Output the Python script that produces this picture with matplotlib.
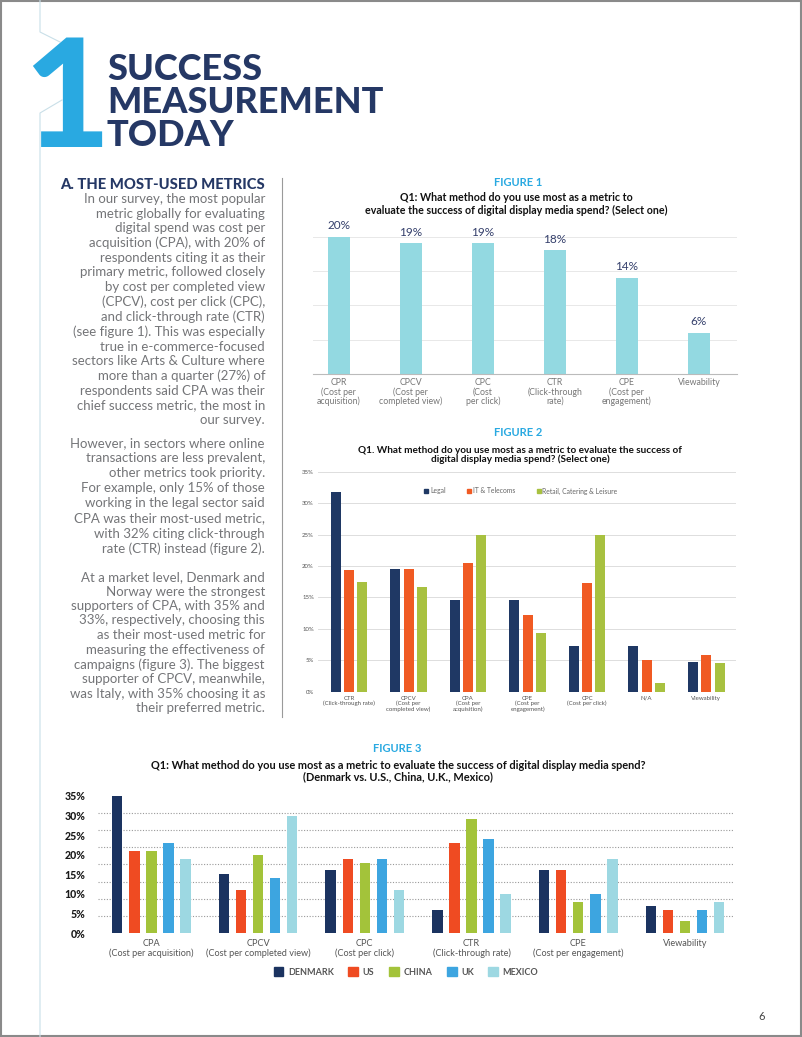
import numpy as np
import matplotlib.pyplot as plt
from matplotlib.patches import Patch, Rectangle
from matplotlib.lines import Line2D

plt.rcParams['font.family'] = ['Lato', 'DejaVu Sans']

# ---- data ----
fig1_cats = ["CPR\n(Cost per\nacquisition)", "CPCV\n(Cost per\ncompleted view)",
             "CPC\n(Cost\nper click)", "CTR\n(Click-through\nrate)",
             "CPE\n(Cost per\nengagement)", "Viewability"]
fig1_vals = [20, 19, 19, 18, 14, 6]

fig2_cats = ["CTR\n(Click-through rate)", "CPCV\n(Cost per\ncompleted view)",
             "CPA\n(Cost per\nacquisition)", "CPE\n(Cost per\nengagement)",
             "CPC\n(Cost per click)", "N/A", "Viewability"]
fig2_series = ["Legal", "IT & Telecoms", "Retail, Catering & Leisure"]
legal = [31.7, 19.5, 14.6, 14.6, 7.2, 7.2, 4.8]
it_telecoms = [19.3, 19.5, 20.5, 12.2, 17.3, 5.1, 5.9]
retail = [17.4, 16.7, 24.9, 9.4, 25.0, 1.4, 4.5]

fig3_cats = ["CPA\n(Cost per acquisition)", "CPCV\n(Cost per completed view)",
             "CPC\n(Cost per click)", "CTR\n(Click-through rate)",
             "CPE\n(Cost per engagement)", "Viewability"]
fig3_series = ["DENMARK", "US", "CHINA", "UK", "MEXICO"]
denmark = [35, 15, 16, 6, 16, 7]
us = [21, 11, 19, 23, 16, 6]
china = [21, 20, 18, 29, 8, 3]
uk = [23, 14, 19, 24, 10, 6]
mexico = [19, 30, 11, 10, 19, 8]

paragraphs = [
    "In our survey, the most popular\nmetric globally for evaluating\ndigital spend was cost per\n"
    "acquisition (CPA), with 20% of\nrespondents citing it as their\nprimary metric, followed closely\n"
    "by cost per completed view\n(CPCV), cost per click (CPC),\nand click-through rate (CTR)\n"
    "(see figure 1). This was especially\ntrue in e-commerce-focused\nsectors like Arts & Culture where\n"
    "more than a quarter (27%) of\nrespondents said CPA was their\nchief success metric, the most in\nour survey.",
    "However, in sectors where online\ntransactions are less prevalent,\nother metrics took priority.\n"
    "For example, only 15% of those\nworking in the legal sector said\nCPA was their most-used metric,\n"
    "with 32% citing click-through\nrate (CTR) instead (figure 2).",
    "At a market level, Denmark and\nNorway were the strongest\nsupporters of CPA, with 35% and\n"
    "33%, respectively, choosing this\nas their most-used metric for\nmeasuring the effectiveness of\n"
    "campaigns (figure 3). The biggest\nsupporter of CPCV, meanwhile,\nwas Italy, with 35% choosing it as\n"
    "their preferred metric.",
]

# ---- page ----
W, H = 802, 1037
fig = plt.figure(figsize=(W / 100, H / 100), dpi=100)

def rect(l, t, r, b):
    return [l / W, 1 - b / H, (r - l) / W, (b - t) / H]

def ftext(x, y, s, **kw):
    return fig.text(x / W, 1 - y / H, s, **kw)

navy = "#253865"
blue = "#29a9e1"
body = "#747578"

# frame and decorative lines
fig.add_artist(Rectangle((0.001, 0.001), 0.998, 0.998, transform=fig.transFigure,
                         fill=False, ec="#8a8a8a", lw=1.5))
fig.add_artist(Line2D(np.array([40, 40, 60]) / W, 1 - np.array([0, 32, 42]) / H,
                      color="#c9dfe8", lw=0.8))
fig.add_artist(Line2D(np.array([62, 40, 40]) / W, 1 - np.array([100, 113, 1037]) / H,
                      color="#c9dfe8", lw=0.8))
fig.add_artist(Line2D([282 / W, 282 / W], [1 - 178 / H, 1 - 717 / H], color="#9a9a9a", lw=0.8))

# headline
ftext(67, 147, "1", fontsize=108, fontweight="black", color=blue, ha="center", va="baseline")
for y, s in zip([80, 113, 146], ["SUCCESS", "MEASUREMENT", "TODAY"]):
    ftext(107, y, s, fontsize=26, fontweight="black", color=navy, ha="left", va="baseline")

ftext(265, 189, "A. THE MOST-USED METRICS", fontsize=10.6, fontweight="black", color=navy,
      ha="right", va="baseline")
for y, p, ls in zip([193, 437, 571], paragraphs, [1.25, 1.31, 1.25]):
    ftext(265, y, p, fontsize=9.5, color=body, ha="right", va="top",
          multialignment="right", linespacing=ls)

ftext(762, 1017, "6", fontsize=8, color="#444444", ha="center", va="center")

# ---- figure 1 ----
ftext(518, 183, "FIGURE 1", fontsize=8, fontweight="bold", color=blue, ha="center", va="center")
ftext(516, 204, "Q1: What method do you use most as a metric to\n"
      "evaluate the success of digital display media spend? (Select one)",
      fontsize=7.7, fontweight="bold", color="#111111", ha="center", va="center", linespacing=1.15)

ax1 = fig.add_axes(rect(313, 220, 737, 374))
x1 = np.arange(len(fig1_vals))
bars = ax1.bar(x1, fig1_vals, width=0.31, color="#93d9e1", zorder=2)
ax1.bar_label(bars, labels=[f"{v}%" for v in fig1_vals], padding=4, fontsize=8.5, color="#343f6b")
ax1.set_xlim(-0.36, 5.53)
ax1.set_ylim(0, 22.4)
ax1.set_yticks([5, 10, 15, 20])
ax1.yaxis.grid(True, color="#e8e8e8", lw=0.7)
ax1.tick_params(axis="y", length=0, labelleft=False)
ax1.set_xticks(x1)
ax1.set_xticklabels(fig1_cats, fontsize=6.3, color="#777777", linespacing=1.0, va="top")
ax1.tick_params(axis="x", length=0, pad=3)
for s in ["top", "right", "left"]:
    ax1.spines[s].set_visible(False)
ax1.spines["bottom"].set_color("#bbbbbb")
ax1.spines["bottom"].set_linewidth(0.8)

# ---- figure 2 ----
ftext(518, 433, "FIGURE 2", fontsize=8, fontweight="bold", color=blue, ha="center", va="center")
ftext(520, 455, "Q1. What method do you use most as a metric to evaluate the success of\n"
      "digital display media spend? (Select one)",
      fontsize=7.2, fontweight="bold", color="#111111", ha="center", va="center", linespacing=0.95)

ax2 = fig.add_axes(rect(318, 471.7 - 0.6, 736, 691.7))
x2 = np.arange(len(fig2_cats))
c2 = ["#1f3864", "#f05a23", "#a8c140"]
for i, vals in enumerate([legal, it_telecoms, retail]):
    ax2.bar(x2 + (i - 1) * 0.223, vals, width=0.168, color=c2[i], zorder=2)
ax2.set_xlim(-0.52, 6.5)
ax2.set_ylim(0, 35.1)
ax2.set_yticks(np.arange(0, 36, 5))
ax2.set_yticklabels([f"{v}%" for v in range(0, 36, 5)], fontsize=4.3, color="#555555")
ax2.yaxis.grid(True, color="#dddddd", lw=0.7)
ax2.set_axisbelow(True)
ax2.tick_params(length=0, pad=3)
ax2.set_xticks(x2)
ax2.set_xticklabels(fig2_cats, fontsize=4.4, color="#555555", linespacing=1.0)
for s in ax2.spines.values():
    s.set_visible(False)
h2 = [Line2D([], [], marker="s", ls="", color=c, markersize=2.2) for c in c2]
ax2.legend(h2, fig2_series, loc="center", bbox_to_anchor=(521 / W, 1 - 491 / H),
           bbox_transform=fig.transFigure, ncol=3, frameon=False, fontsize=4.9,
           labelcolor="#666666", handlelength=0.5, handletextpad=0.3, columnspacing=3.2)

# ---- figure 3 ----
ftext(397, 749, "FIGURE 3", fontsize=8, fontweight="bold", color=blue, ha="center", va="center")
ftext(398, 771, "Q1: What method do you use most as a metric to evaluate the success of digital display media spend?\n"
      "(Denmark vs. U.S., China, U.K., Mexico)",
      fontsize=7.9, fontweight="bold", color="#111111", ha="center", va="center", linespacing=1.05)

ax3 = fig.add_axes(rect(98, 796 - 0.6, 733, 933))
x3 = np.arange(len(fig3_cats))
c3 = ["#1b3360", "#ef4b22", "#a3c33a", "#3da5e0", "#9dd8e2"]
for i, vals in enumerate([denmark, us, china, uk, mexico]):
    ax3.bar(x3 + (i - 2) * 0.16, vals, width=0.098, color=c3[i], zorder=2)
ax3.set_xlim(-0.5, 5.45)
ax3.set_ylim(0, 35.15)
ax3.set_yticks(np.arange(0, 36, 5))
ax3.set_yticklabels([f"{v}%" for v in range(0, 36, 5)], fontsize=7.6, fontweight="black",
                    color="#1a1a1a")
ax3.set_yticks(np.linspace(0, 35, 9), minor=True)
ax3.yaxis.grid(True, which="minor", color="#9a9a9a", lw=0.8, ls=(0, (1, 1.5)))
ax3.yaxis.grid(False, which="major")
ax3.set_axisbelow(True)
ax3.tick_params(which="both", length=0)
ax3.tick_params(axis="y", pad=9)
ax3.set_xticks(x3)
ax3.set_xticklabels(fig3_cats, fontsize=6.6, color="#555555", linespacing=1.15)
ax3.tick_params(axis="x", pad=4)
for s in ax3.spines.values():
    s.set_visible(False)
h3 = [Patch(color=c) for c in c3]
fig.legend(h3, fig3_series, loc="center", bbox_to_anchor=(406 / W, 1 - 972 / H), ncol=5,
           frameon=False, prop={"size": 6.5, "weight": "bold"}, labelcolor="#555555",
           handlelength=1.1, handleheight=1.1, handletextpad=0.5, columnspacing=1.6)

fig.savefig("out.png", dpi=100, facecolor="white")
